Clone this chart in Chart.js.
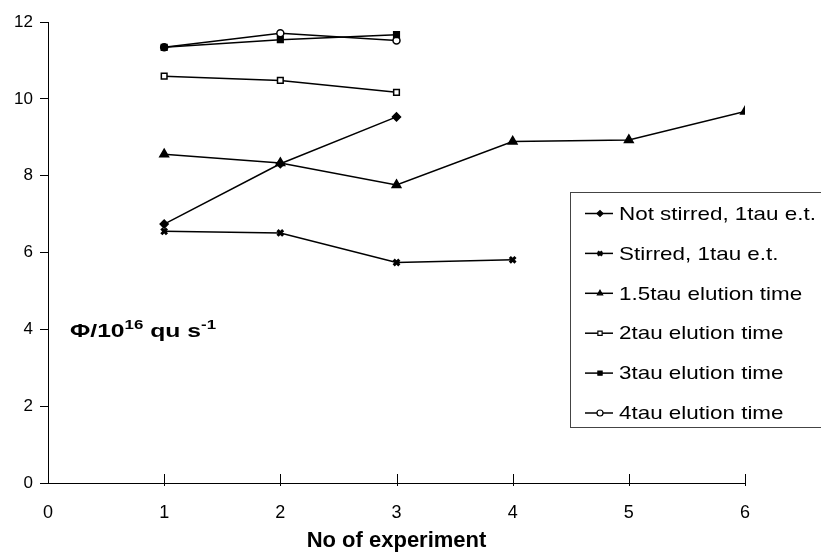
<!DOCTYPE html>
<html>
<head>
<meta charset="utf-8">
<script src="https://cdn.jsdelivr.net/npm/chart.js@4/dist/chart.umd.min.js"></script>
<style>
  html, body { margin: 0; padding: 0; background: #fff; }
  #wrap { width: 821px; height: 556px; }
</style>
</head>
<body>
<div id="wrap"><canvas id="phiChart" width="821" height="556"></canvas></div>
<script>
// Data
const experiments = [1, 2, 3, 4, 5, 6];
const seriesNames = ['Not stirred, 1tau e.t.', 'Stirred, 1tau e.t.', '1.5tau elution time',
                     '2tau elution time', '3tau elution time', '4tau elution time'];
const notStirred = [6.74, 8.31, 9.53];
const stirred = [6.55, 6.51, 5.74, 5.81];
const tau15 = [8.56, 8.33, 7.76, 8.89, 8.93, 9.67];
const tau2 = [10.59, 10.48, 10.17];
const tau3 = [11.34, 11.54, 11.67];
const tau4 = [11.34, 11.71, 11.52];
const xTicks = [0, 1, 2, 3, 4, 5, 6];
const yTicks = [0, 2, 4, 6, 8, 10, 12];

const FONT = '"Liberation Sans", Arial, sans-serif';

function toPoints(vals) {
    return vals.map((v, i) => ({ x: experiments[i], y: v }));
}

function makeSet(label, vals, style, fill, radius) {
    return {
        label: label,
        data: toPoints(vals),
        borderColor: '#000',
        borderWidth: 1.5,
        pointStyle: style,
        pointRadius: radius,
        pointBackgroundColor: fill,
        pointBorderColor: '#000',
        pointBorderWidth: 1.5,
        tension: 0
    };
}

const datasets = [
    makeSet(seriesNames[0], notStirred, 'rectRot', '#000', 4),
    makeSet(seriesNames[1], stirred, 'crossRot', '#000', 4),
    makeSet(seriesNames[2], tau15, 'triangle', '#000', 5),
    makeSet(seriesNames[3], tau2, 'rect', '#fff', 4),
    makeSet(seriesNames[4], tau3, 'rect', '#000', 4),
    makeSet(seriesNames[5], tau4, 'circle', '#fff', 3.5)
];
datasets[1].pointBorderWidth = 3;

// text that is a bit wider than the font, like the scanned original
function wideText(ctx, txt, x, y, font, sx) {
    ctx.save();
    ctx.font = font;
    ctx.translate(x, y);
    ctx.scale(sx, 1);
    ctx.fillText(txt, 0, 0);
    const w = ctx.measureText(txt).width * sx;
    ctx.restore();
    return w;
}

// extra drawing: crossing x ticks, y title inside plot, legend box
const decor = {
    id: 'decor',
    afterDraw(chart) {
        const ctx = chart.ctx;
        const xs = chart.scales.x;
        const ys = chart.scales.y;
        ctx.save();
        ctx.strokeStyle = '#000';
        ctx.lineWidth = 1;
        xTicks.forEach(v => {
            if (v === 0) return;
            const px = Math.round(xs.getPixelForValue(v)) + 0.5;
            ctx.beginPath();
            ctx.moveTo(px, ys.bottom - 9);
            ctx.lineTo(px, ys.bottom + 3);
            ctx.stroke();
        });

        // y axis title
        ctx.fillStyle = '#000';
        ctx.textBaseline = 'alphabetic';
        ctx.textAlign = 'left';
        let x = 70;
        const base = 337;
        const parts = [['Φ/10', 19, 0], ['16', 13, -8], [' qu s', 19, 0], ['-1', 13, -8]];
        parts.forEach(p => {
            x += wideText(ctx, p[0], x, base + p[2], 'bold ' + p[1] + 'px ' + FONT, 1.3);
        });

        // legend
        const lx = 570, ly = 192, lh = 235;
        ctx.fillStyle = '#fff';
        ctx.fillRect(lx, ly, 300, lh);
        ctx.strokeStyle = '#444';
        ctx.lineWidth = 1;
        ctx.strokeRect(lx + 0.5, ly + 0.5, 300, lh);
        ctx.textBaseline = 'middle';
        chart.data.datasets.forEach((ds, i) => {
            const cy = ly + 21.5 + i * 39.9;
            ctx.strokeStyle = '#000';
            ctx.lineWidth = 1.5;
            ctx.beginPath();
            ctx.moveTo(585, cy);
            ctx.lineTo(613, cy);
            ctx.stroke();
            ctx.fillStyle = ds.pointBackgroundColor;
            ctx.lineWidth = ds.pointBorderWidth > 2 ? 2.5 : 1.2;
            Chart.helpers.drawPoint(ctx, {
                pointStyle: ds.pointStyle,
                radius: 3,
                borderWidth: ctx.lineWidth,
                rotation: 0
            }, 600, cy);
            ctx.fillStyle = '#000';
            wideText(ctx, ds.label, 619, cy + 1, '19px ' + FONT, 1.18);
        });
        ctx.restore();
    }
};

new Chart(document.getElementById('phiChart'), {
    type: 'line',
    data: { datasets: datasets },
    options: {
        responsive: false,
        animation: false,
        layout: { padding: { top: 22, right: 76, left: 0, bottom: 0 } },
        plugins: {
            legend: { display: false },
            tooltip: { enabled: false }
        },
        scales: {
            x: {
                type: 'linear',
                min: 0,
                max: 6,
                afterFit: s => { s.height = 73; },
                afterBuildTicks: s => { s.ticks = xTicks.map(v => ({ value: v })); },
                ticks: { color: '#000', font: { family: FONT, size: 18 }, padding: 19 },
                grid: { display: true, drawOnChartArea: false, drawTicks: false },
                border: { color: '#000', width: 1 },
                title: {
                    display: true,
                    text: 'No of experiment',
                    color: '#000',
                    font: { family: FONT, size: 22, weight: 'bold' },
                    padding: { top: 8, bottom: 2 }
                }
            },
            y: {
                min: 0,
                max: 12,
                afterFit: s => { s.width = 48; },
                afterBuildTicks: s => { s.ticks = yTicks.map(v => ({ value: v })); },
                ticks: { color: '#000', font: { family: FONT, size: 17 }, padding: 7 },
                grid: { display: true, drawOnChartArea: false, drawTicks: true, tickLength: 8, color: '#000' },
                border: { color: '#000', width: 1 }
            }
        }
    },
    plugins: [decor]
});
</script>
</body>
</html>
